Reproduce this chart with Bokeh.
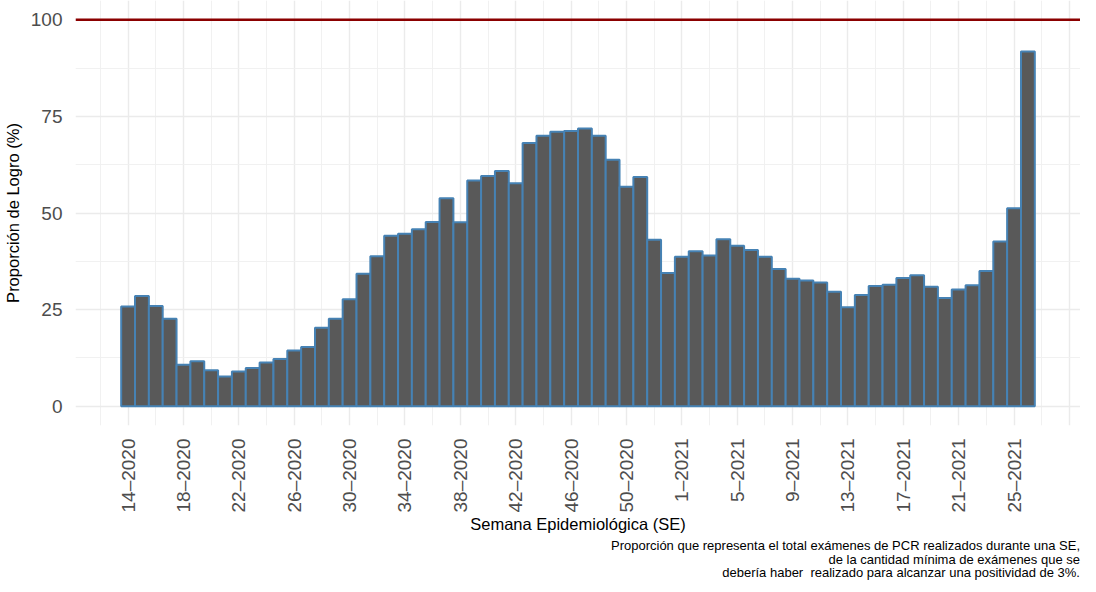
import math
from bokeh.plotting import figure
from bokeh.layouts import column
from bokeh.models import Range1d, FixedTicker, Span, Div, ColumnDataSource
from bokeh.embed import file_html
from bokeh.resources import INLINE

# ---------------- data ----------------
week_labels = [
    "14–2020", "15–2020", "16–2020", "17–2020", "18–2020", "19–2020", "20–2020",
    "21–2020", "22–2020", "23–2020", "24–2020", "25–2020", "26–2020", "27–2020",
    "28–2020", "29–2020", "30–2020", "31–2020", "32–2020", "33–2020", "34–2020",
    "35–2020", "36–2020", "37–2020", "38–2020", "39–2020", "40–2020", "41–2020",
    "42–2020", "43–2020", "44–2020", "45–2020", "46–2020", "47–2020", "48–2020",
    "49–2020", "50–2020", "51–2020", "52–2020", "53–2020",
    "1–2021", "2–2021", "3–2021", "4–2021", "5–2021", "6–2021", "7–2021",
    "8–2021", "9–2021", "10–2021", "11–2021", "12–2021", "13–2021", "14–2021",
    "15–2021", "16–2021", "17–2021", "18–2021", "19–2021", "20–2021", "21–2021",
    "22–2021", "23–2021", "24–2021", "25–2021", "26–2021",
]

logro = [
    25.8, 28.5, 25.9, 22.6, 10.7, 11.6, 9.3, 7.7, 9.0, 9.9,
    11.3, 12.2, 14.4, 15.3, 20.3, 22.6, 27.7, 34.3, 38.8, 44.1,
    44.6, 45.8, 47.7, 53.8, 47.6, 58.4, 59.6, 60.9, 57.7, 68.1,
    70.0, 71.0, 71.2, 71.9, 70.0, 63.8, 56.8, 59.3, 43.1, 34.5,
    38.7, 40.1, 39.0, 43.2, 41.5, 40.4, 38.7, 35.5, 33.0, 32.5,
    32.0, 29.6, 25.6, 28.8, 31.1, 31.4, 33.2, 33.9, 30.9, 28.0,
    30.2, 31.3, 35.0, 42.6, 51.2, 91.8,
]

meta = 100
y_ticks = [0, 25, 50, 75, 100]
y_minor = [12.5, 37.5, 62.5, 87.5]

x_title = "Semana Epidemiológica (SE)"
y_title = "Proporción de Logro (%)"
caption_lines = [
    "Proporción que representa el total exámenes de PCR realizados durante una SE,",
    "de la cantidad mínima de exámenes que se",
    "debería haber  realizado para alcanzar una positividad de 3%.",
]

# ---------------- figure ----------------
n = len(logro)
xpos = list(range(1, n + 1))
src = ColumnDataSource(dict(x=xpos, top=logro, label=week_labels))

FONT = "Liberation Sans"
W = 1080
CAP_H = 40

p = figure(width=W, height=576 - CAP_H, output_backend="svg",
           toolbar_location=None,
           x_range=Range1d(0.5 - 0.05 * n, n + 0.5 + 0.05 * n),
           y_range=Range1d(-5, 105),
           min_border_left=0, min_border_right=0, min_border_top=0,
           min_border_bottom=0)
p.outline_line_color = None
p.background_fill_color = "white"
p.border_fill_color = "white"

p.vbar(x="x", top="top", bottom=0, width=1.0, source=src,
       fill_color="#595959", line_color="#4682B4", line_width=2)

p.add_layout(Span(location=meta, dimension="width", line_color="#8B0000",
                  line_width=2.6))

# x axis ticks every 4 weeks, minor grid every 2 weeks
major = list(range(1, n + 4, 4))
minor = list(range(-1, n + 4, 4))
p.xaxis.ticker = FixedTicker(ticks=major, minor_ticks=minor)
p.xaxis.major_label_overrides = {
    t: (week_labels[t - 1] if t <= n else "") for t in major
}
p.yaxis.ticker = FixedTicker(ticks=y_ticks, minor_ticks=y_minor)

for ax in (p.xaxis[0], p.yaxis[0]):
    ax.axis_line_color = None
    ax.major_tick_line_color = None
    ax.minor_tick_line_color = None
    ax.major_label_text_font = FONT
    ax.major_label_text_font_size = "19px"
    ax.major_label_text_color = "#4D4D4D"
    ax.axis_label_text_font = FONT
    ax.axis_label_text_font_size = "16.5px"
    ax.axis_label_text_font_style = "normal"
    ax.axis_label_text_color = "black"

p.xaxis.major_label_orientation = math.pi / 2
p.xaxis.major_label_standoff = 7
p.xaxis.axis_label = x_title
p.xaxis.axis_label_standoff = 0
p.yaxis.axis_label = y_title
p.yaxis.major_label_standoff = 7
p.yaxis.axis_label_standoff = 6

for g in (p.xgrid[0], p.ygrid[0]):
    g.grid_line_color = "#EBEBEB"
    g.grid_line_width = 1.4
    g.minor_grid_line_color = "#EFEFEF"
    g.minor_grid_line_width = 0.9

caption_html = (
    f"<div style=\"width:{W}px; text-align:right; font-family:'{FONT}'; "
    "font-size:13px; line-height:13.5px; color:black; white-space:pre; "
    "margin:0; padding:0;\">"
    + "<br>".join(caption_lines)
    + "</div>"
)
cap = Div(text=caption_html, width=W, height=CAP_H, margin=0,
          styles={"padding-top": "3px"})

layout = column(p, cap, spacing=0)

open("out.html", "w").write(file_html(layout, INLINE))
